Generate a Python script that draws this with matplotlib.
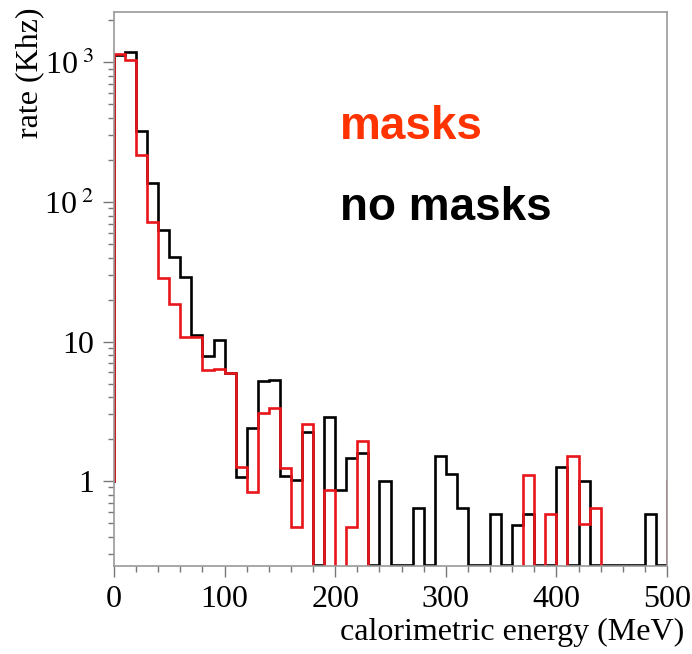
import numpy as np
import matplotlib
matplotlib.use('Agg')
import matplotlib.pyplot as plt
from matplotlib.ticker import FixedLocator, NullFormatter

# bin edges in MeV (10 MeV bins from 0 to 500)
edges = np.arange(0, 510, 10)

# rate (Khz) per bin
no_masks = [1140, 1180, 322, 137, 63, 40.6, 28.8, 11.2, 7.9, 10.3,
            5.9, 1.06, 2.39, 5.2, 5.3, 1.09, 1.02, 2.26, 0, 2.87,
            0.86, 1.46, 1.6, 0, 1.0, 0, 0, 0.64, 0, 1.5,
            1.13, 0.64, 0, 0, 0.58, 0, 0.48, 0.58, 0, 0,
            1.27, 0, 1.0, 0, 0, 0, 0, 0, 0.58, 0]
masks = [1145, 1044, 216, 72, 28.4, 18.7, 10.8, 10.7, 6.2, 6.4,
         5.9, 1.27, 0.84, 3.06, 3.35, 1.23, 0.47, 2.57, 0, 0.86,
         0, 0.47, 1.95, 0, 0, 0, 0, 0, 0, 0,
         0, 0, 0, 0, 0, 0, 0, 1.11, 0, 0.58,
         0, 1.5, 0.49, 0.64, 0, 0, 0, 0, 0, 0]
# under/overflow bins (outside the drawn range)
no_masks_under, no_masks_over = 1.0, 0
masks_under, masks_over = 1.0, 1.0

xtick_vals = [0, 100, 200, 300, 400, 500]
ytick_vals = [1, 10, 100, 1000]
ytick_labels = ['1', '10', r'10$^{\ 2}$', r'10$^{\ 3}$']

ymin, ymax = 0.246, 2300

plt.rcParams['font.family'] = 'Liberation Serif'
plt.rcParams['mathtext.fontset'] = 'stix'

fig = plt.figure(figsize=(6.92, 6.54), dpi=100)
ax = fig.add_axes([114/692, 1 - 566/654, 553/692, 554/654])

full_edges = np.concatenate([[edges[0] - 10], edges, [edges[-1] + 10]])
black = np.array([no_masks_under] + no_masks + [no_masks_over], dtype=float)
red = np.array([masks_under] + masks + [masks_over], dtype=float)

# empty bins: black sits on the axis, red drops out of view
ax.stairs(np.where(black > 0, black, ymin * 1.01), full_edges,
          color='black', lw=1.9, baseline=None)
ax.stairs(np.where(red > 0, red, 1e-3), full_edges,
          color='#e8161b', lw=1.9, baseline=None)

ax.set_yscale('log')
ax.set_xlim(0, 500)
ax.set_ylim(ymin, ymax)

ax.set_xticks(xtick_vals)
ax.set_xticklabels([str(v) for v in xtick_vals])
ax.xaxis.set_minor_locator(FixedLocator(np.arange(0, 501, 20)))

ax.yaxis.set_major_locator(FixedLocator(ytick_vals))
ax.set_yticklabels(ytick_labels)
minors = [m * 10.0 ** d for d in range(-1, 4) for m in range(2, 10)]
ax.yaxis.set_minor_locator(FixedLocator([v for v in minors if ymin < v < ymax]))
ax.yaxis.set_minor_formatter(NullFormatter())

for s in ax.spines.values():
    s.set_color('#9a9a9a')
    s.set_linewidth(1.2)
ax.tick_params(which='major', direction='out', length=8, width=1, color='#777777',
               labelsize=23, pad=6)
ax.tick_params(which='minor', direction='out', length=4, width=1, color='#777777')

fig.text(684/692, 1 - 632/654, 'calorimetric energy (MeV)', ha='right', va='center',
         fontsize=23)
fig.text(30/692, 1 - 8/654, 'rate (Khz)', rotation=90, ha='center', va='top',
         fontsize=23)

fig.text(340/692, 1 - 127/654, 'masks', color='#ff3300', fontsize=33,
         fontweight='bold', family='Liberation Sans', va='center', ha='left')
fig.text(340/692, 1 - 208/654, 'no masks', color='black', fontsize=33,
         fontweight='bold', family='Liberation Sans', va='center', ha='left')

fig.savefig('out.png', dpi=100)
